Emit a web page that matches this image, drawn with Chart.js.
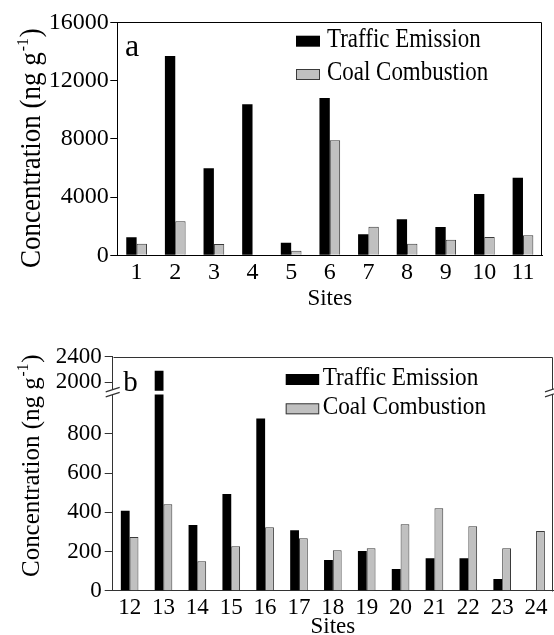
<!DOCTYPE html>
<html><head><meta charset="utf-8">
<script src="https://cdn.jsdelivr.net/npm/chart.js@4.4.1/dist/chart.umd.min.js"></script>
<style>
html,body{margin:0;padding:0;background:#fff;overflow:hidden}
#wrap{position:relative;width:554px;height:635px;background:#fff}
canvas{position:absolute;left:0}
#c1{top:0}
#c2{top:320px}
</style></head><body>
<div id="wrap"><canvas id="c1" width="554" height="320"></canvas><canvas id="c2" width="554" height="315"></canvas></div>
<script>
// ---------- data ----------
const seriesNames = ['Traffic Emission', 'Coal Combustion'];
const sitesA = ['1','2','3','4','5','6','7','8','9','10','11'];
const trafficA = [1240, 13690, 5980, 10370, 870, 10800, 1440, 2470, 1940, 4210, 5330];
const coalA    = [800, 2340, 780, 0, 320, 7900, 1960, 800, 1070, 1260, 1370];
const ticksA   = [0, 4000, 8000, 12000, 16000];

const sitesB = ['12','13','14','15','16','17','18','19','20','21','22','23','24'];
const trafficB = [407, 2180, 335, 493, 878, 308, 157, 202, 111, 165, 165, 60, 0];
const coalB    = [274, 441, 150, 226, 323, 267, 206, 216, 339, 420, 329, 216, 305];
const ticksBLow  = [0, 200, 400, 600, 800];
const ticksBHigh = [2000, 2400];
// broken axis ranges of panel b
const lowMax = 1020, lowCut = 1000, highMin = 1870, highMax = 2400;

const yTitleMain = 'Concentration (ng g', yTitleSup = '-1', yTitleEnd = ')';
const xTitle = 'Sites';
const panelA = 'a', panelB = 'b';

const FONT = '"Liberation Serif","Times New Roman",serif';
const BLACK = '#000000', GRAY = '#c0c0c0', GRAYEDGE = '#3a3a3a';

// ---------- helpers ----------
function rotatedTitle(ctx, x, y, size, sx) {
  ctx.save();
  ctx.translate(x, y);
  ctx.rotate(-Math.PI / 2);
  ctx.scale(sx, 1);
  ctx.fillStyle = '#000';
  ctx.textAlign = 'left';
  ctx.textBaseline = 'alphabetic';
  ctx.font = size + 'px ' + FONT;
  ctx.fillText(yTitleMain, 0, 0);
  let w = ctx.measureText(yTitleMain).width;
  ctx.font = Math.round(size * 0.6) + 'px ' + FONT;
  ctx.fillText(yTitleSup, w + 1, -size * 0.42);
  w += ctx.measureText(yTitleSup).width + 2;
  ctx.font = size + 'px ' + FONT;
  ctx.fillText(yTitleEnd, w, 0);
  ctx.restore();
}
function drawLegend(ctx, chart, o) {
  const ds = chart.data.datasets.filter(d => !d.hideInLegend);
  ds.forEach((d, i) => {
    const y = o.y + i * o.dy;
    ctx.fillStyle = d.backgroundColor;
    ctx.fillRect(o.x, y - o.bh, o.bw, o.bh);
    if (d.borderWidth) {
      ctx.strokeStyle = d.borderColor; ctx.lineWidth = 1;
      ctx.strokeRect(o.x + 0.5, y - o.bh + 0.5, o.bw - 1, o.bh - 1);
    }
    ctx.save();
    ctx.translate(o.x + o.bw + o.gap, y);
    ctx.scale(o.sx, 1);
    ctx.fillStyle = '#000';
    ctx.font = o.size + 'px ' + FONT;
    ctx.textAlign = 'left'; ctx.textBaseline = 'alphabetic';
    ctx.fillText(d.label, 0, 0);
    ctx.restore();
  });
}
function breakMark(ctx, x, y, color) {
  ctx.save();
  ctx.fillStyle = '#fff';
  ctx.beginPath();
  ctx.moveTo(x - 6, y - 0.5); ctx.lineTo(x + 6, y - 4.5);
  ctx.lineTo(x + 6, y + 0.5); ctx.lineTo(x - 6, y + 4.5);
  ctx.closePath(); ctx.fill();
  ctx.strokeStyle = color; ctx.lineWidth = 1.2;
  ctx.beginPath();
  ctx.moveTo(x - 7, y - 0.2); ctx.lineTo(x + 7, y - 4.8);
  ctx.moveTo(x - 7, y + 4.8); ctx.lineTo(x + 7, y + 0.2);
  ctx.stroke();
  ctx.restore();
}

const decor = {
  id: 'decor',
  afterDraw(chart, args, o) {
    const ctx = chart.ctx, a = chart.chartArea;
    ctx.save();
    // frame top + right
    ctx.strokeStyle = o.frame; ctx.lineWidth = 1;
    ctx.beginPath();
    ctx.moveTo(Math.round(a.left) + 0.5, Math.round(a.top) + 0.5);
    ctx.lineTo(Math.round(a.right) - 0.5, Math.round(a.top) + 0.5);
    ctx.lineTo(Math.round(a.right) - 0.5, Math.round(a.bottom) + 0.5);
    ctx.stroke();
    // panel letter
    ctx.fillStyle = '#000';
    ctx.font = o.panelSize + 'px ' + FONT;
    ctx.textAlign = 'left'; ctx.textBaseline = 'alphabetic';
    ctx.fillText(o.panel, o.panelX, o.panelY);
    // x title
    ctx.font = o.xSize + 'px ' + FONT;
    ctx.textAlign = 'center';
    ctx.fillText(xTitle, (a.left + a.right) / 2, o.xY);
    // y title
    rotatedTitle(ctx, o.yX, o.yY, o.ySize, o.ySx);
    // legend
    drawLegend(ctx, chart, o.legend);
    // break marks
    if (o.breakAxis) {
      const yb = chart.scales[o.breakAxis].bottom + 1.5;
      breakMark(ctx, a.left, yb, o.frame);
      breakMark(ctx, a.right - 1, yb, o.frame);
    }
    ctx.restore();
  }
};

function yAxis(color, size, tl, pad, width, extra) {
  return Object.assign({
    type: 'linear',
    position: 'left',
    grid: { drawOnChartArea: false, drawTicks: true, tickLength: tl, color: color },
    border: { display: true, color: color, width: 1 },
    ticks: { color: '#000', font: { family: FONT, size: size }, padding: pad, autoSkip: false,
             callback: v => String(v) },
    afterFit(s) { s.width = width; }
  }, extra);
}
function xAxis(color, size, height, extra) {
  return Object.assign({
    type: 'category',
    grid: { display: false, drawTicks: false },
    border: { display: true, color: color, width: 1 },
    ticks: { color: '#000', font: { family: FONT, size: size }, padding: 3, maxRotation: 0, autoSkip: false },
    afterFit(s) { s.height = height; }
  }, extra);
}

// ---------- chart a ----------
new Chart(document.getElementById('c1'), {
  type: 'bar',
  data: {
    labels: sitesA,
    datasets: [
      { label: seriesNames[0], data: trafficA, backgroundColor: BLACK, borderColor: BLACK, borderWidth: 0 },
      { label: seriesNames[1], data: coalA, backgroundColor: GRAY, borderColor: GRAYEDGE, borderWidth: 1 }
    ]
  },
  options: {
    responsive: false, animation: false, devicePixelRatio: 1,
    categoryPercentage: 0.536, barPercentage: 1,
    layout: { padding: { left: 0, right: 11.7, top: 22.3, bottom: 0 } },
    plugins: {
      legend: { display: false }, tooltip: { enabled: false },
      decor: {
        frame: '#000', panel: panelA, panelSize: 32, panelX: 125, panelY: 56,
        xSize: 23, xY: 304.5, yX: 40, yY: 268, ySize: 29, ySx: 0.93,
        legend: { x: 296, y: 46.7, dy: 33.3, bw: 24, bh: 11, gap: 7, size: 27, sx: 0.85 }
      }
    },
    scales: {
      x: xAxis('#000', 24, 64.7, {}),
      y: yAxis('#000', 24, 7, 1.5, 117.3, {
        min: 0, max: 16000,
        afterBuildTicks(s) { s.ticks = ticksA.map(v => ({ value: v })); }
      })
    }
  },
  plugins: [decor]
});

// ---------- chart b (broken axis) ----------
new Chart(document.getElementById('c2'), {
  type: 'bar',
  data: {
    labels: sitesB,
    datasets: [
      { label: seriesNames[0], data: trafficB.map(v => Math.min(v, lowCut)), stack: 'te', yAxisID: 'y',
        backgroundColor: BLACK, borderColor: BLACK, borderWidth: 0 },
      { label: seriesNames[1], data: coalB.map(v => Math.min(v, lowCut)), stack: 'cc', yAxisID: 'y',
        backgroundColor: GRAY, borderColor: GRAYEDGE, borderWidth: 1 },
      { label: seriesNames[0], data: trafficB.map(v => v > highMin ? v : null), stack: 'te', yAxisID: 'yUp',
        backgroundColor: BLACK, borderColor: BLACK, borderWidth: 0, hideInLegend: true }
    ]
  },
  options: {
    responsive: false, animation: false, devicePixelRatio: 1,
    categoryPercentage: 0.52, barPercentage: 1,
    layout: { padding: { left: 0, right: 1, top: 36.7, bottom: 0 } },
    plugins: {
      legend: { display: false }, tooltip: { enabled: false },
      decor: {
        frame: '#333', panel: panelB, panelSize: 29, panelX: 123.3, panelY: 70.7,
        xSize: 23, xY: 313.3, yX: 38.5, yY: 257, ySize: 26, ySx: 0.96,
        breakAxis: 'yUp',
        legend: { x: 285.7, y: 65, dy: 29.3, bw: 33.5, bh: 11, gap: 3.5, size: 25, sx: 0.93 }
      }
    },
    scales: {
      x: xAxis('#333', 23, 44.3, { stacked: true }),
      y: yAxis('#333', 23, 8, 3, 112.7, {
        min: 0, max: lowMax, stacked: false, stack: 'v', stackWeight: lowMax * 0.196,
        afterBuildTicks(s) { s.ticks = ticksBLow.map(v => ({ value: v })); }
      }),
      yUp: yAxis('#333', 23, 8, 3, 112.7, {
        min: highMin, max: highMax, stacked: false, stack: 'v', stackWeight: (highMax - highMin) * 0.064,
        afterBuildTicks(s) { s.ticks = ticksBHigh.map(v => ({ value: v })); }
      })
    }
  },
  plugins: [decor]
});
</script>
</body></html>
